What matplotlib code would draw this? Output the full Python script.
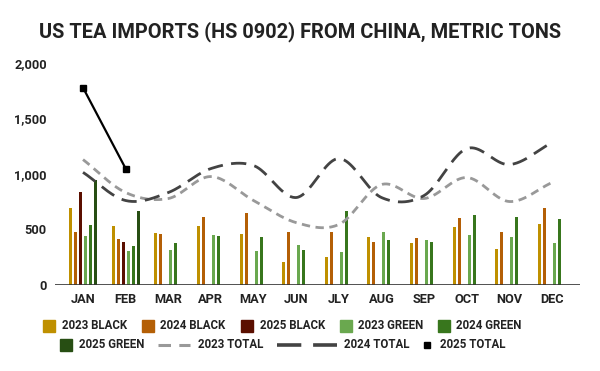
import numpy as np
import matplotlib.pyplot as plt

plt.rcParams['font.family'] = ['Roboto', 'DejaVu Sans']
plt.rcParams['lines.scale_dashes'] = False

months = ["JAN", "FEB", "MAR", "APR", "MAY", "JUN", "JLY", "AUG", "SEP", "OCT", "NOV", "DEC"]

black_2023 = [691, 529, 466, 529, 457, 204, 250, 430, 376, 520, 322, 547]
black_2024 = [477, 412, 457, 610, 646, 475, 475, 385, 421, 601, 475, 691]
black_2025 = [835, 385]
green_2023 = [439, 304, 313, 448, 304, 358, 295, 475, 403, 448, 430, 376]
green_2024 = [538, 349, 376, 439, 430, 313, 664, 403, 385, 628, 610, 592]
green_2025 = [943, 664]

total_2023 = [1130, 833, 779, 977, 761, 562, 545, 905, 779, 968, 752, 923]
total_2024 = [1015, 761, 833, 1049, 1076, 788, 1139, 788, 806, 1229, 1085, 1283]
total_2025 = [1778, 1049]

bar_series = [
    ("2023 BLACK", black_2023, "#bf9000"),
    ("2024 BLACK", black_2024, "#b45f06"),
    ("2025 BLACK", black_2025, "#5b0f00"),
    ("2023 GREEN", green_2023, "#6aa84f"),
    ("2024 GREEN", green_2024, "#38761d"),
    ("2025 GREEN", green_2025, "#274e13"),
]


def smooth(y, n=40):
    # catmull-rom curve through the monthly points, only for drawing
    y = np.asarray(y, dtype=float)
    p = np.concatenate([[2 * y[0] - y[1]], y, [2 * y[-1] - y[-2]]])
    xs, ys = [], []
    for i in range(len(y) - 1):
        p0, p1, p2, p3 = p[i], p[i + 1], p[i + 2], p[i + 3]
        t = np.linspace(0, 1, n, endpoint=False)
        m1 = (p2 - p0) / 2
        m2 = (p3 - p1) / 2
        h00 = 2 * t**3 - 3 * t**2 + 1
        h10 = t**3 - 2 * t**2 + t
        h01 = -2 * t**3 + 3 * t**2
        h11 = t**3 - t**2
        xs.append(i + t)
        ys.append(h00 * p1 + h10 * m1 + h01 * p2 + h11 * m2)
    xs.append([len(y) - 1])
    ys.append([y[-1]])
    return np.concatenate(xs), np.concatenate(ys)


fig = plt.figure(figsize=(6, 3.71), dpi=100)
ax = fig.add_axes([55 / 600, 86 / 371, 525 / 600, 222 / 371])

x = np.arange(len(months))
step = 0.117
width = 0.07
for k, (name, vals, col) in enumerate(bar_series):
    xb = x[:len(vals)] + (k - 2.5) * step
    ax.bar(xb, vals, width=width, color=col, zorder=2)

sx, sy = smooth(total_2023)
ax.plot(sx, sy, color="#999999", lw=2, dashes=(6, 4), zorder=3)
sx, sy = smooth(total_2024)
ax.plot(sx, sy, color="#434343", lw=2, dashes=(11, 6), zorder=3)
ax.plot(x[:len(total_2025)], total_2025, color="black", lw=1.6, marker="s", markersize=5, zorder=4)

ax.set_xlim(-0.657, 11.657)
ax.set_ylim(0, 2000)
ax.set_yticks([0, 500, 1000, 1500, 2000])
ax.set_yticklabels(["0", "500", "1,000", "1,500", "2,000"])
ax.set_xticks(x)
ax.set_xticklabels(months)
for s in ["top", "right", "left", "bottom"]:
    ax.spines[s].set_visible(False)
ax.axhline(0, color="#333333", lw=1.2, zorder=5)
ax.tick_params(length=0, labelsize=9.2, colors="#222222", pad=6)
for lab in ax.get_xticklabels() + ax.get_yticklabels():
    lab.set_fontweight("bold")

fig.text(0.5, 0.915, "US TEA IMPORTS (HS 0902) FROM CHINA, METRIC TONS",
         ha="center", va="center", fontsize=14.4, fontweight="bold", color="#222222")

# legend drawn by hand in pixel space so the two rows sit like the original
lg = fig.add_axes([0, 0, 1, 1], facecolor="none")
lg.set_xlim(0, 600)
lg.set_ylim(371, 0)
lg.axis("off")
tkw = dict(fontsize=8.3, fontweight="bold", color="#222222", va="center", ha="left")

row1 = 325.5
sq_x = [48.5, 148, 246.5, 345.5, 443.5]
txt_x = [61.5, 160.5, 260, 358.5, 456.5]
for (name, vals, col), sx0, tx in zip(bar_series[:5], sq_x, txt_x):
    lg.plot([sx0], [row1], marker="s", markersize=8, color=col, ls="none")
    lg.text(tx, row1, name, **tkw)

row2 = 344.5
lg.plot([65.5], [row2], marker="s", markersize=8, color=bar_series[5][2], ls="none")
lg.text(79, row2, bar_series[5][0], **tkw)
lg.plot([158, 190], [row2, row2], color="#999999", lw=2.2, dashes=(9, 6))
lg.text(198, row2, "2023 TOTAL", **tkw)
lg.plot([277, 337], [row2, row2], color="#434343", lw=2.6, dashes=(17.5, 8.5))
lg.text(344, row2, "2024 TOTAL", **tkw)
lg.plot([427], [row2], marker="s", markersize=4.5, color="black", ls="none")
lg.text(440.5, row2, "2025 TOTAL", **tkw)

fig.savefig("out.png", dpi=100)
